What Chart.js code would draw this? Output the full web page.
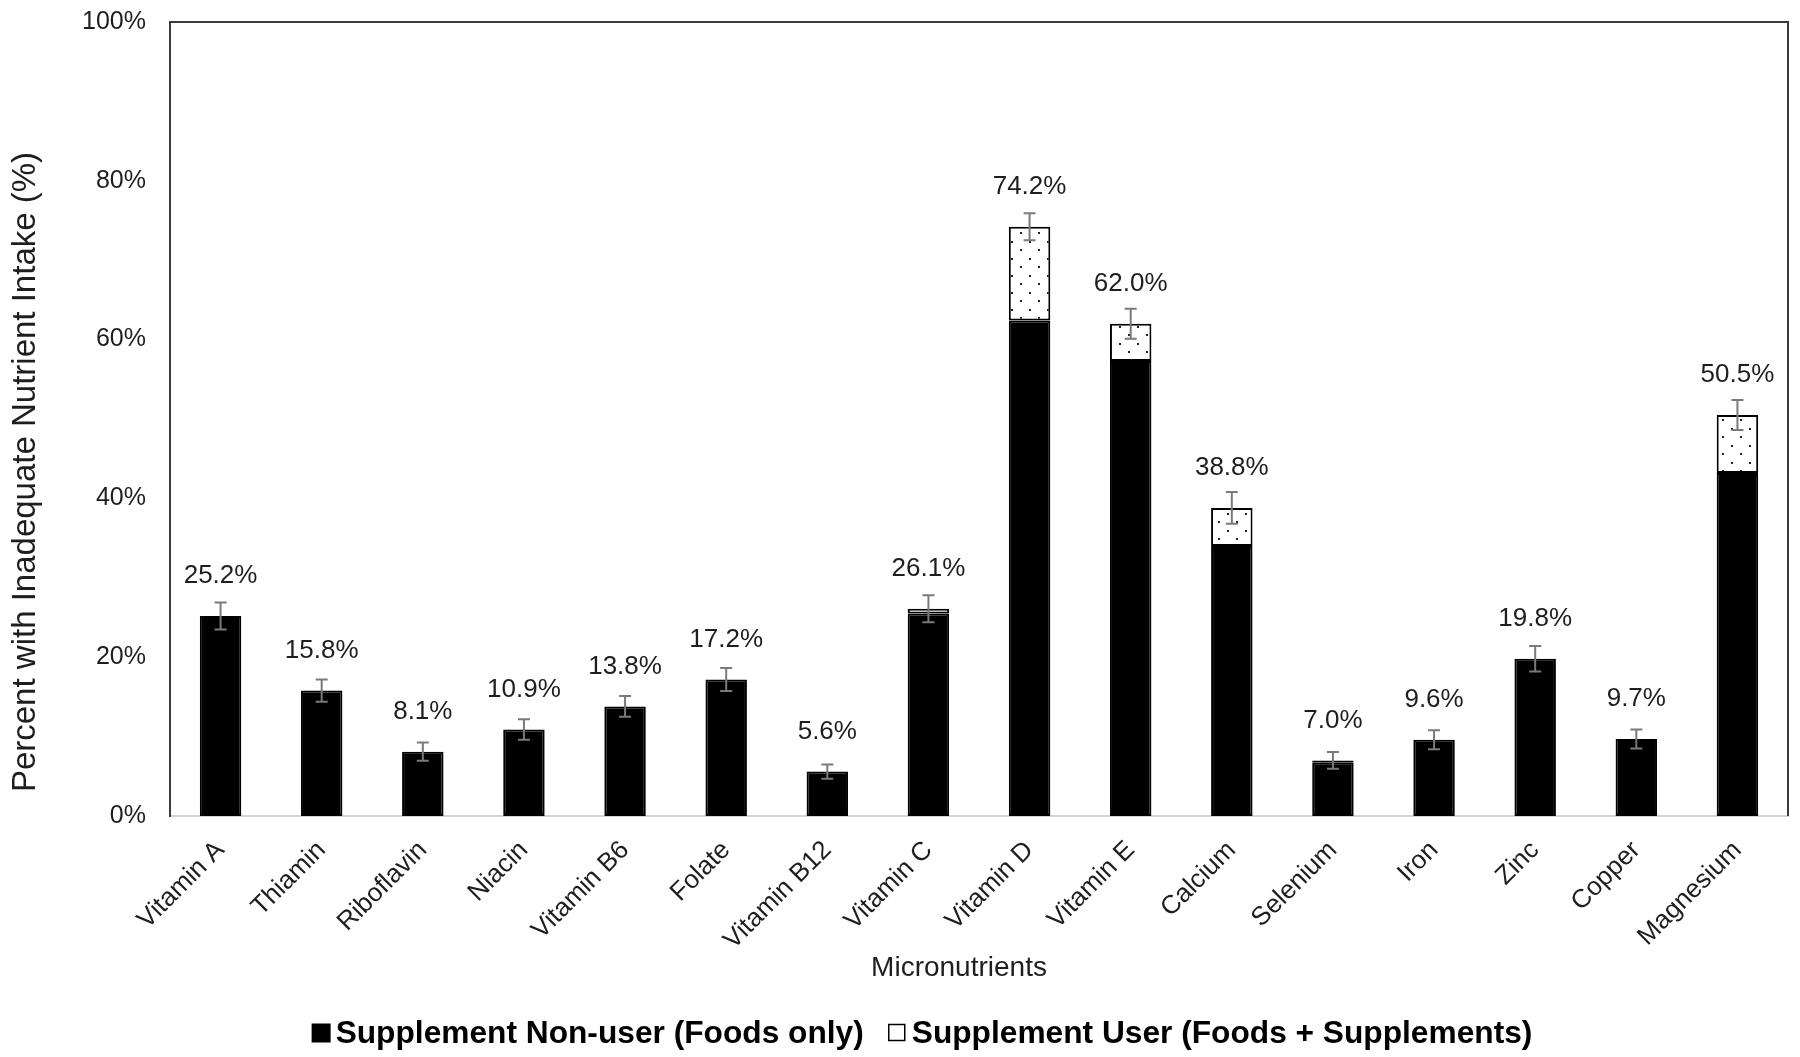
<!DOCTYPE html>
<html>
<head>
<meta charset="utf-8">
<script src="https://cdn.jsdelivr.net/npm/chart.js@4.4.1/dist/chart.umd.min.js"></script>
<style>
  html, body { margin: 0; padding: 0; background: #fff; }
  #wrap { width: 1800px; height: 1057px; position: relative; }
</style>
</head>
<body>
<div id="wrap"><canvas id="chart"></canvas></div>
<script>
// categories (micronutrients)
const nutrients = ['Vitamin A', 'Thiamin', 'Riboflavin', 'Niacin', 'Vitamin B6', 'Folate', 'Vitamin B12',
    'Vitamin C', 'Vitamin D', 'Vitamin E', 'Calcium', 'Selenium', 'Iron', 'Zinc', 'Copper', 'Magnesium'];

// black part: supplement non-users (foods only)
const foodsOnly = [25.2, 15.8, 8.1, 10.9, 13.8, 17.2, 5.6, 25.5, 62.4, 57.3, 34.0, 6.7, 9.6, 19.8, 9.7, 43.2];
// dotted part on top: supplement users (foods + supplements)
const supplementPart = [0, 0, 0, 0, 0, 0, 0, 0.6, 11.8, 4.7, 4.8, 0.3, 0, 0, 0, 7.3];
// printed totals above bars
const totals = [25.2, 15.8, 8.1, 10.9, 13.8, 17.2, 5.6, 26.1, 74.2, 62.0, 38.8, 7.0, 9.6, 19.8, 9.7, 50.5];
// error bar half-lengths (%)
const errors = [1.7, 1.4, 1.15, 1.3, 1.3, 1.45, 0.9, 1.7, 1.7, 1.9, 2.0, 1.05, 1.2, 1.6, 1.2, 1.9];

const seriesNames = ['Supplement Non-user (Foods only)', 'Supplement User (Foods + Supplements)'];
const yTicks = [0, 20, 40, 60, 80, 100];
const xTitle = 'Micronutrients';
const yTitle = 'Percent with Inadequate Nutrient Intake (%)';

const FONT = '"Liberation Sans", Arial, Helvetica, sans-serif';
const TEXT = '#1e1e1e';

// dotted fill for the supplement part
function dotPattern() {
    const c = document.createElement('canvas');
    c.width = 18;
    c.height = 17;
    const g = c.getContext('2d');
    g.fillStyle = '#ffffff';
    g.fillRect(0, 0, 18, 17);
    g.fillStyle = '#222222';
    g.fillRect(3, 3, 2, 2);
    g.fillRect(12, 11, 2, 2);
    return g.createPattern(c, 'repeat');
}

// top + right frame lines, axis titles
const framePlugin = {
    id: 'frame',
    afterDraw(chart) {
        const { ctx, chartArea: a } = chart;
        ctx.save();
        ctx.strokeStyle = '#3a3a3a';
        ctx.lineWidth = 2;
        ctx.beginPath();
        ctx.moveTo(a.left, a.top);
        ctx.lineTo(a.right, a.top);
        ctx.lineTo(a.right, a.bottom);
        ctx.stroke();

        ctx.fillStyle = TEXT;
        ctx.textAlign = 'center';
        ctx.textBaseline = 'middle';
        ctx.font = '28px ' + FONT;
        ctx.fillText(xTitle, 959, 968);

        ctx.translate(26, 472);
        ctx.rotate(-Math.PI / 2);
        ctx.font = '33px ' + FONT;
        ctx.fillText(yTitle, 0, 0);
        ctx.restore();
    }
};

// error bars and value labels
const errorPlugin = {
    id: 'errorBars',
    afterDatasetsDraw(chart) {
        const { ctx, scales: { x, y } } = chart;
        ctx.save();
        totals.forEach((t, i) => {
            const cx = x.getPixelForValue(i);
            const yTop = y.getPixelForValue(t + errors[i]);
            const yBot = y.getPixelForValue(t - errors[i]);
            ctx.strokeStyle = '#7a7a7a';
            ctx.lineWidth = 2;
            ctx.beginPath();
            ctx.moveTo(cx, yTop);
            ctx.lineTo(cx, yBot);
            ctx.moveTo(cx - 6, yTop);
            ctx.lineTo(cx + 6, yTop);
            ctx.moveTo(cx - 6, yBot);
            ctx.lineTo(cx + 6, yBot);
            ctx.stroke();

            ctx.fillStyle = TEXT;
            ctx.font = '26px ' + FONT;
            ctx.textAlign = 'center';
            ctx.textBaseline = 'middle';
            ctx.fillText(t.toFixed(1) + '%', cx, y.getPixelForValue(t) - 40);
        });
        ctx.restore();
    }
};

// legend under the axis title
const legendPlugin = {
    id: 'bottomLegend',
    afterDraw(chart) {
        const ctx = chart.ctx;
        ctx.save();
        ctx.font = 'bold 31.7px ' + FONT;
        ctx.textBaseline = 'middle';
        ctx.textAlign = 'left';
        const box = 19, gapText = 5, gapItem = 24;
        const widths = seriesNames.map(s => ctx.measureText(s).width);
        const total = widths.reduce((s, w) => s + box + gapText + w, 0) + gapItem;
        let lx = 922 - total / 2;
        const ly = 1033;
        seriesNames.forEach((name, i) => {
            if (i === 0) {
                ctx.fillStyle = '#000';
                ctx.fillRect(lx, ly - box / 2, box, box);
            } else {
                ctx.fillStyle = '#fff';
                ctx.fillRect(lx + 1, ly - box / 2 + 1, box - 3, box - 3);
                ctx.strokeStyle = '#000';
                ctx.lineWidth = 1.5;
                ctx.strokeRect(lx + 1, ly - box / 2 + 1, box - 3, box - 3);
            }
            ctx.fillStyle = '#000';
            ctx.fillText(name, lx + box + gapText, ly + 1);
            lx += box + gapText + widths[i] + gapItem;
        });
        ctx.restore();
    }
};

const ctx = document.getElementById('chart').getContext('2d');
new Chart(ctx, {
    type: 'bar',
    data: {
        labels: nutrients,
        datasets: [{
            label: seriesNames[0],
            data: foodsOnly,
            backgroundColor: '#000000',
            borderColor: '#000000',
            borderWidth: 2,
            borderSkipped: false
        }, {
            label: seriesNames[1],
            data: supplementPart,
            backgroundColor: dotPattern(),
            borderColor: '#000000',
            borderWidth: 2,
            borderSkipped: false
        }]
    },
    options: {
        responsive: true,
        maintainAspectRatio: false,
        animation: false,
        layout: { padding: { top: 22, right: 12, bottom: 72, left: 0 } },
        datasets: { bar: { categoryPercentage: 1, barPercentage: 0.41 } },
        plugins: {
            legend: { display: false },
            tooltip: { enabled: false }
        },
        scales: {
            x: {
                stacked: true,
                grid: { display: false, drawTicks: false },
                border: { display: true, color: '#d4d4d4', width: 2 },
                ticks: {
                    autoSkip: false,
                    minRotation: 45,
                    maxRotation: 45,
                    padding: 19,
                    color: TEXT,
                    font: { family: FONT, size: 26 }
                },
                afterFit(scale) { scale.height = 169; }
            },
            y: {
                stacked: true,
                min: 0,
                max: 100,
                grid: { display: false, drawTicks: false },
                border: { display: true, color: '#3a3a3a', width: 2 },
                afterBuildTicks(scale) { scale.ticks = yTicks.map(v => ({ value: v })); },
                ticks: {
                    padding: 24,
                    color: TEXT,
                    font: { family: FONT, size: 25 },
                    callback: v => v + '%'
                },
                afterFit(scale) {
                    scale.width = 170;
                    scale.paddingTop = 0;
                    scale.paddingBottom = 0;
                }
            }
        }
    },
    plugins: [framePlugin, errorPlugin, legendPlugin]
});
</script>
</body>
</html>
